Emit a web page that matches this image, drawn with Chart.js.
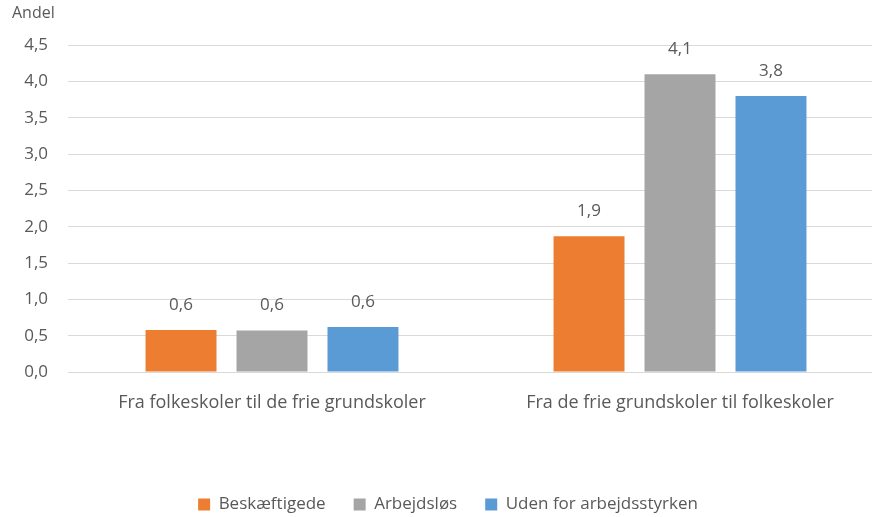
<!DOCTYPE html>
<html>
<head>
<meta charset="utf-8">
<script src="https://cdn.jsdelivr.net/npm/chart.js@4"></script>
<style>
    html, body { margin: 0; padding: 0; overflow: hidden; background: #fff; }
    #wrap { width: 936px; height: 517px; position: relative; }
</style>
</head>
<body>
<div id="wrap"><canvas id="andelChart"></canvas></div>
<script>
const categories = ["Fra folkeskoler til de frie grundskoler", "Fra de frie grundskoler til folkeskoler"];
const seriesNames = ["Beskæftigede", "Arbejdsløs", "Uden for arbejdsstyrken"];
const beskaeftigede = [0.58, 1.87];
const arbejdslos = [0.57, 4.10];
const udenFor = [0.62, 3.80];
const seriesColors = ["#ED7D31", "#A5A5A5", "#5B9BD5"];

const textColor = "#595959";
const fontFamily = "'Open Sans', 'Liberation Sans', sans-serif";

function fmt(v) {
    return v.toFixed(1).replace(".", ",");
}

// draws the value above each bar
const valueLabels = {
    id: "valueLabels",
    afterDatasetsDraw(chart) {
        const ctx = chart.ctx;
        ctx.save();
        ctx.font = "17px " + fontFamily;
        ctx.fillStyle = textColor;
        ctx.textAlign = "center";
        ctx.textBaseline = "middle";
        chart.data.datasets.forEach((ds, i) => {
            chart.getDatasetMeta(i).data.forEach((bar, j) => {
                ctx.fillText(fmt(ds.data[j]), bar.x, bar.y - 25);
            });
        });
        ctx.restore();
    }
};

new Chart(document.getElementById("andelChart").getContext("2d"), {
    type: "bar",
    data: {
        labels: categories,
        datasets: [
            { label: seriesNames[0], data: beskaeftigede, backgroundColor: seriesColors[0] },
            { label: seriesNames[1], data: arbejdslos, backgroundColor: seriesColors[1] },
            { label: seriesNames[2], data: udenFor, backgroundColor: seriesColors[2] }
        ]
    },
    options: {
        responsive: true,
        maintainAspectRatio: false,
        animation: false,
        datasets: {
            bar: { categoryPercentage: 0.669, barPercentage: 0.78 }
        },
        layout: { padding: { left: 12, right: 52, top: 0, bottom: -6 } },
        plugins: {
            tooltip: { enabled: false },
            title: {
                display: true,
                text: "Andel",
                align: "start",
                color: textColor,
                font: { family: fontFamily, size: 16, weight: "normal" },
                padding: { top: 4, bottom: 22 }
            },
            legend: {
                position: "bottom",
                labels: {
                    color: textColor,
                    font: { family: fontFamily, size: 17 },
                    boxWidth: 12,
                    boxHeight: 12,
                    padding: 28
                }
            }
        },
        scales: {
            x: {
                grid: { display: false },
                border: { color: "#D9D9D9" },
                ticks: {
                    color: textColor,
                    font: { family: fontFamily, size: 18 },
                    padding: 12,
                    maxRotation: 0
                },
                afterFit(scale) { scale.height = 96; }
            },
            y: {
                min: 0,
                max: 4.5,
                grid: { color: "#D9D9D9", drawTicks: false },
                border: { display: false },
                ticks: {
                    stepSize: 0.5,
                    color: textColor,
                    font: { family: fontFamily, size: 17 },
                    padding: 20,
                    callback: (v) => fmt(v)
                },
                afterFit(scale) { scale.width = 56; }
            }
        }
    },
    plugins: [valueLabels]
});
</script>
</body>
</html>
